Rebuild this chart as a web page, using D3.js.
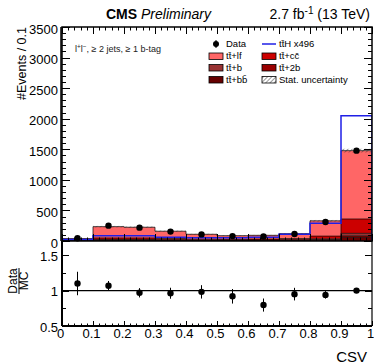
<!DOCTYPE html>
<html>
<head>
<meta charset="utf-8">
<script src="https://cdn.jsdelivr.net/npm/d3@7"></script>
<style>
body { margin: 0; background: #fff; }
svg { font-family: "Liberation Sans", Arial, Helvetica, sans-serif; }
</style>
</head>
<body>
<svg id="chart" width="374" height="364"></svg>
<script>
"use strict";

// CSV bins, width 0.1
const binLow = [0, 0.1, 0.2, 0.3, 0.4, 0.5, 0.6, 0.7, 0.8, 0.9];
const binWidth = 0.1;

// stacked backgrounds (events per bin)
const ttbb = [2, 8, 8, 7, 5, 5, 6, 8, 12, 60];
const tt2b = [1, 5, 5, 4, 3, 3, 3, 4, 8, 25];
const ttb  = [2, 12, 12, 9, 7, 6, 7, 8, 15, 40];
const ttcc = [5, 25, 25, 20, 15, 13, 15, 20, 45, 235];
const ttlf = [30, 185, 175, 120, 80, 60, 62, 80, 250, 1118];
const mcStatErr = [6, 12, 12, 10, 8, 7, 7, 9, 14, 30];

// ttH signal scaled x496
const ttH = [25, 85, 85, 62, 52, 52, 60, 112, 290, 2050];

// observed data
const dataCounts = [44, 251, 218, 154, 108, 80, 74, 114, 310, 1478];

const yTicks = [0, 500, 1000, 1500, 2000, 2500, 3000, 3500];
const rTicks = [0.5, 1, 1.5];
const xTicks = [0, 0.1, 0.2, 0.3, 0.4, 0.5, 0.6, 0.7, 0.8, 0.9, 1];

const layers = [
  {key: "ttbb", values: ttbb, color: "#660000"},
  {key: "tt2b", values: tt2b, color: "#990000"},
  {key: "ttb",  values: ttb,  color: "#993333"},
  {key: "ttcc", values: ttcc, color: "#cc0000"},
  {key: "ttlf", values: ttlf, color: "#ff6666"}
];

const svg = d3.select("#chart");

const pLeft = 62, pRight = 372, pTop = 27, pMid = 241, pBottom = 326;

const x = d3.scaleLinear().domain([0, 1]).range([pLeft, pRight]);
const y = d3.scaleLinear().domain([0, 3500]).range([pMid, pTop]);
const r = d3.scaleLinear().domain([0.5, 1.7]).range([pBottom, pMid]);

// hatch pattern for stat. uncertainty
const defs = svg.append("defs");
defs.append("pattern")
    .attr("id", "hatch")
    .attr("patternUnits", "userSpaceOnUse")
    .attr("width", 3).attr("height", 3)
    .attr("patternTransform", "rotate(45)")
    .append("line")
    .attr("x1", 0).attr("y1", 0).attr("x2", 0).attr("y2", 3)
    .attr("stroke", "#333").attr("stroke-width", 1);

defs.append("clipPath").attr("id", "mainClip")
    .append("rect")
    .attr("x", pLeft).attr("y", pTop)
    .attr("width", pRight - pLeft).attr("height", pMid - pTop);

// build stack table
const table = binLow.map(function(b, i){
  const row = {low: b};
  layers.forEach(function(l){ row[l.key] = l.values[i]; });
  return row;
});
const stacked = d3.stack().keys(layers.map(function(l){ return l.key; }))(table);

// step points: two per bin
const stepPts = function(series){
  const pts = [];
  series.forEach(function(d, i){
    pts.push({x: binLow[i], lo: d[0], hi: d[1]});
    pts.push({x: binLow[i] + binWidth, lo: d[0], hi: d[1]});
  });
  return pts;
};

const area = d3.area()
  .x(function(d){ return x(d.x); })
  .y0(function(d){ return y(d.lo); })
  .y1(function(d){ return y(d.hi); });

const outline = d3.line()
  .x(function(d){ return x(d.x); })
  .y(function(d){ return y(d.hi); });

const plot = svg.append("g").attr("clip-path", "url(#mainClip)");

stacked.forEach(function(s, k){
  plot.append("path")
      .attr("d", area(stepPts(s)))
      .attr("fill", layers[k].color);
});
stacked.forEach(function(s){
  const full = [{x: 0, hi: 0}].concat(stepPts(s), [{x: 1, hi: 0}]);
  plot.append("path")
      .attr("d", outline(full))
      .attr("fill", "none")
      .attr("stroke", "#000")
      .attr("stroke-width", 0.7);
});

// MC stat. uncertainty
const totals = stacked[stacked.length - 1].map(function(d){ return d[1]; });
plot.selectAll("rect.unc")
    .data(totals)
    .enter()
    .append("rect")
    .attr("class", "unc")
    .attr("x", function(d, i){ return x(binLow[i]); })
    .attr("width", x(binWidth) - x(0))
    .attr("y", function(d, i){ return y(d + mcStatErr[i]); })
    .attr("height", function(d, i){ return y(d - mcStatErr[i]) - y(d + mcStatErr[i]); })
    .attr("fill", "url(#hatch)");

// ttH step line
const sigPts = [{x: 0, hi: 0}];
ttH.forEach(function(v, i){
  sigPts.push({x: binLow[i], hi: v});
  sigPts.push({x: binLow[i] + binWidth, hi: v});
});
sigPts.push({x: 1, hi: 0});
plot.append("path")
    .attr("d", outline(sigPts))
    .attr("fill", "none")
    .attr("stroke", "#1f1fe6")
    .attr("stroke-width", 1.5);

// data points
const dataG = svg.append("g");
dataCounts.forEach(function(n, i){
  const cx = x(binLow[i] + binWidth / 2);
  const e = Math.sqrt(n);
  dataG.append("line")
       .attr("x1", cx).attr("x2", cx)
       .attr("y1", y(n - e)).attr("y2", y(n + e))
       .attr("stroke", "#000").attr("stroke-width", 1);
  dataG.append("circle")
       .attr("cx", cx).attr("cy", y(n)).attr("r", 3.2)
       .attr("fill", "#000");
});

// ---- ticks helper ----
const tickGroup = svg.append("g").attr("stroke", "#000").attr("stroke-width", 1);
const drawTicksY = function(scale, vals, len, x0, x1){
  vals.forEach(function(v){
    const yy = Math.round(scale(v)) + 0.5;
    tickGroup.append("line").attr("x1", x0).attr("x2", x0 + len).attr("y1", yy).attr("y2", yy);
    tickGroup.append("line").attr("x1", x1).attr("x2", x1 - len).attr("y1", yy).attr("y2", yy);
  });
};
const drawTicksX = function(vals, len, y0, y1){
  vals.forEach(function(v){
    const xx = Math.round(x(v)) + 0.5;
    tickGroup.append("line").attr("x1", xx).attr("x2", xx).attr("y1", y0).attr("y2", y0 - len);
    if (y1 !== null){
      tickGroup.append("line").attr("x1", xx).attr("x2", xx).attr("y1", y1).attr("y2", y1 + len);
    }
  });
};

// main panel ticks
drawTicksY(y, y.ticks(35), 4, pLeft, pRight);
drawTicksY(y, yTicks, 8, pLeft, pRight);
drawTicksX(x.ticks(50), 3.5, pMid, pTop);
drawTicksX(xTicks, 7, pMid, pTop);

// ratio panel ticks
drawTicksY(r, [0.75, 1.25], 4, pLeft, pRight);
drawTicksY(r, rTicks, 7, pLeft, pRight);
drawTicksX(x.ticks(50), 2.5, pBottom, null);
drawTicksX(xTicks, 5, pBottom, null);

// frames
svg.append("rect")
   .attr("x", pLeft).attr("y", pTop)
   .attr("width", pRight - pLeft).attr("height", pMid - pTop)
   .attr("fill", "none").attr("stroke", "#000").attr("stroke-width", 1.5);
svg.append("line")
   .attr("x1", pLeft).attr("x2", pLeft).attr("y1", pMid).attr("y2", pBottom)
   .attr("stroke", "#000").attr("stroke-width", 2);
svg.append("line")
   .attr("x1", pRight).attr("x2", pRight).attr("y1", pMid).attr("y2", pBottom)
   .attr("stroke", "#000").attr("stroke-width", 1.2);
svg.append("line")
   .attr("x1", pLeft).attr("x2", pRight).attr("y1", pBottom).attr("y2", pBottom)
   .attr("stroke", "#000").attr("stroke-width", 2);
svg.append("line")
   .attr("x1", pLeft - 1).attr("x2", pLeft - 1).attr("y1", pTop).attr("y2", pMid)
   .attr("stroke", "#000").attr("stroke-width", 1.5);

// ratio line at 1
svg.append("line")
   .attr("x1", pLeft).attr("x2", pRight).attr("y1", r(1)).attr("y2", r(1))
   .attr("stroke", "#000").attr("stroke-width", 1.2);

// ratio points
const ratioG = svg.append("g");
dataCounts.forEach(function(n, i){
  const mc = totals[i];
  const rv = n / mc;
  const re = Math.sqrt(n) / mc;
  const cx = x(binLow[i] + binWidth / 2);
  ratioG.append("line")
        .attr("x1", cx).attr("x2", cx)
        .attr("y1", r(rv - re)).attr("y2", r(rv + re))
        .attr("stroke", "#000").attr("stroke-width", 1);
  ratioG.append("circle")
        .attr("cx", cx).attr("cy", r(rv)).attr("r", 3.2)
        .attr("fill", "#000");
});

// ---- labels ----
svg.append("g").selectAll("text")
   .data(yTicks).enter().append("text")
   .attr("x", 58).attr("y", function(d){ return y(d); })
   .attr("dy", "0.5em")
   .attr("text-anchor", "end")
   .attr("font-size", 13)
   .text(function(d){ return d; });

svg.append("g").selectAll("text")
   .data(rTicks).enter().append("text")
   .attr("x", 58).attr("y", function(d){ return r(d); })
   .attr("dy", "0.45em")
   .attr("text-anchor", "end")
   .attr("font-size", 13)
   .text(function(d){ return d; });

svg.append("g").selectAll("text")
   .data(xTicks).enter().append("text")
   .attr("x", function(d){ return x(d) - 1.5; })
   .attr("y", 338)
   .attr("text-anchor", "middle")
   .attr("font-size", 13)
   .text(function(d){ return d; });

svg.append("text")
   .attr("x", 367).attr("y", 362)
   .attr("text-anchor", "end")
   .attr("font-size", 15)
   .text("CSV");

svg.append("text")
   .attr("transform", "translate(26," + pTop + ") rotate(-90)")
   .attr("text-anchor", "end")
   .attr("font-size", 12.5)
   .text("#Events / 0.1");

// Data/MC fraction label
const frac = svg.append("g").attr("transform", "translate(19,281) rotate(-90)");
frac.append("text").attr("x", 0).attr("y", -2)
    .attr("text-anchor", "middle").attr("font-size", 12).text("Data");
frac.append("line").attr("x1", -13).attr("x2", 13).attr("y1", 0).attr("y2", 0)
    .attr("stroke", "#000").attr("stroke-width", 1);
frac.append("text").attr("x", 0).attr("y", 9)
    .attr("text-anchor", "middle").attr("font-size", 12).text("MC");

// title
const title = svg.append("text").attr("x", 106).attr("y", 19).attr("font-size", 14);
title.append("tspan").attr("font-weight", "bold").text("CMS");
title.append("tspan").attr("font-style", "italic").text(" Preliminary");
const lumi = svg.append("text").attr("x", 370).attr("y", 19)
   .attr("text-anchor", "end").attr("font-size", 14);
lumi.append("tspan").text("2.7 fb");
lumi.append("tspan").attr("dy", -5).attr("font-size", 10).text("-1");
lumi.append("tspan").attr("dy", 5).text(" (13 TeV)");

// channel label
const chan = svg.append("text").attr("x", 75).attr("y", 52).attr("font-size", 9).attr("fill", "#222");
chan.append("tspan").text("l");
chan.append("tspan").attr("dy", -3).attr("font-size", 6.5).text("+");
chan.append("tspan").attr("dy", 3).text("l");
chan.append("tspan").attr("dy", -3).attr("font-size", 6.5).text("\u2212");
chan.append("tspan").attr("dy", 3).text(", \u2265 2 jets, \u2265 1 b-tag");

// legend
const legend = svg.append("g").attr("font-size", 9.5);
const legRows = [44, 56, 67.5, 79.5];
const boxItems = [
  {label: "tt\u0304+lf", color: "#ff6666", col: 0, row: 1},
  {label: "tt\u0304+b", color: "#993333", col: 0, row: 2},
  {label: "tt\u0304+bb\u0304", color: "#660000", col: 0, row: 3},
  {label: "tt\u0304+cc\u0304", color: "#cc0000", col: 1, row: 1},
  {label: "tt\u0304+2b", color: "#990000", col: 1, row: 2}
];
const colX = [209, 262];
boxItems.forEach(function(it){
  legend.append("rect")
        .attr("x", colX[it.col]).attr("y", legRows[it.row] - 3)
        .attr("width", 14).attr("height", 6.5)
        .attr("fill", it.color).attr("stroke", "#000").attr("stroke-width", 0.8);
  legend.append("text")
        .attr("x", colX[it.col] + 17).attr("y", legRows[it.row]).attr("dy", "0.35em")
        .text(it.label);
});
legend.append("rect")
      .attr("x", colX[1]).attr("y", legRows[3] - 3)
      .attr("width", 14).attr("height", 6.5)
      .attr("fill", "url(#hatch)").attr("stroke", "#000").attr("stroke-width", 0.8);
legend.append("text")
      .attr("x", colX[1] + 17).attr("y", legRows[3]).attr("dy", "0.35em")
      .text("Stat. uncertainty");
legend.append("circle").attr("cx", colX[0] + 7).attr("cy", legRows[0]).attr("r", 3).attr("fill", "#000");
legend.append("line").attr("x1", colX[0] + 7).attr("x2", colX[0] + 7)
      .attr("y1", legRows[0] - 4).attr("y2", legRows[0] + 4).attr("stroke", "#000");
legend.append("text").attr("x", colX[0] + 17).attr("y", legRows[0]).attr("dy", "0.35em").text("Data");
legend.append("line").attr("x1", colX[1]).attr("x2", colX[1] + 14)
      .attr("y1", legRows[0]).attr("y2", legRows[0])
      .attr("stroke", "#1f1fe6").attr("stroke-width", 1.5);
legend.append("text").attr("x", colX[1] + 17).attr("y", legRows[0]).attr("dy", "0.35em").text("tt\u0304H x496");
</script>
</body>
</html>
